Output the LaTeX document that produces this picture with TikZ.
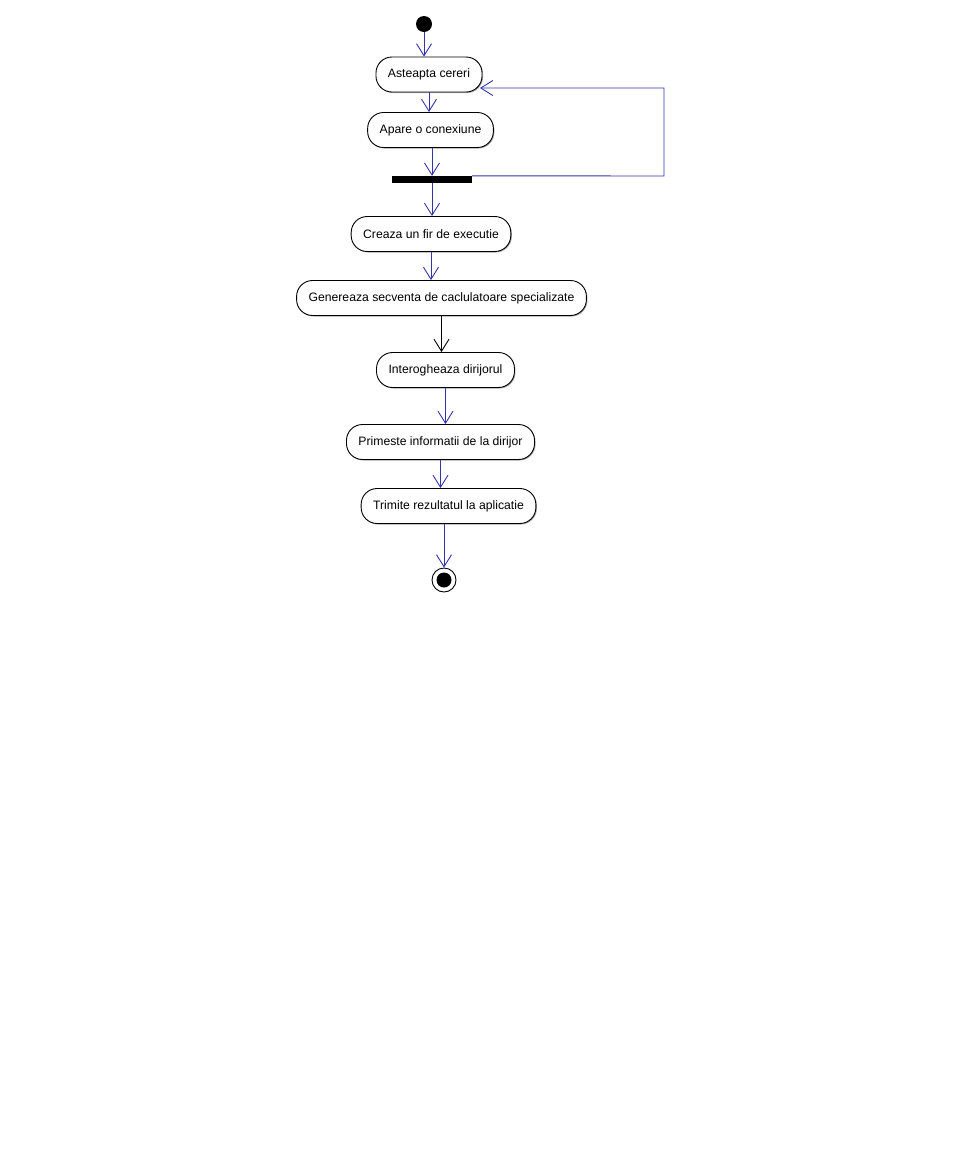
\documentclass[tikz,border=0pt]{standalone}
\usepackage{fontspec}
\setmainfont{Liberation Sans}
\usetikzlibrary{arrows.meta,shadows}
\definecolor{flowblue}{RGB}{51,51,170}
\tikzset{
	action/.style={draw, fill=white, line width=0.9pt, rounded corners=16pt, minimum height=35pt, inner xsep=12pt, font=\fontsize{12.2}{14}\selectfont, drop shadow={shadow xshift=1pt, shadow yshift=-1pt, fill=gray!70, opacity=1}},
	flow/.style={draw=flowblue, line width=0.9pt, -{Straight Barb[length=12pt, width=15pt]}},
}
\begin{document}
\begin{tikzpicture}[x=1pt, y=-1pt]
		\useasboundingbox (0,0) rectangle (960,1168);
		\node[circle, fill=black, minimum size=16pt, inner sep=0pt] (start) at (424,24) {};
		\node[action] (wait) at (429,74.5) {Asteapta cereri};
		\node[action] (conn) at (430.5,130) {Apare o conexiune};
		\node[fill=black, minimum width=80pt, minimum height=7pt, inner sep=0pt] (fork) at (432,179.5) {};
		\node[action] (thread) at (431,234) {Creaza un fir de executie};
		\node[action] (gen) at (441.5,298) {Genereaza secventa de caclulatoare specializate};
		\node[action] (ask) at (445.5,370) {Interogheaza dirijorul};
		\node[action] (recv) at (440.5,442) {Primeste informatii de la dirijor};
		\node[action] (send) at (448.5,506) {Trimite rezultatul la aplicatie};
		\node[circle, draw, fill=white, line width=0.9pt, minimum size=24pt, inner sep=0pt] (end) at (444,580) {};
		\node[circle, fill=black, minimum size=15pt, inner sep=0pt] at (end) {};
		\coordinate (corner) at (664,176);
		\coordinate (back) at (480,88);
		\draw[flow] (start) -- (start |- wait.north);
		\draw[flow] (wait.south) -- (wait.south |- conn.north);
		\draw[flow] (conn.south -| fork) -- (fork.north);
		\draw[flow] (fork.south) -- (fork.south |- thread.north);
		\draw[flow] (fork.north east) -- (corner) |- (back);
		\draw[flow] (thread.south) -- (thread.south |- gen.north);
		\draw[flow, draw=black] (gen.south) -- (gen.south |- ask.north);
		\draw[flow] (ask.south) -- (ask.south |- recv.north);
		\draw[flow] (recv.south) -- (recv.south |- send.north);
		\draw[flow] (send.south -| end) -- (end.north);
	\end{tikzpicture}
\end{document}
